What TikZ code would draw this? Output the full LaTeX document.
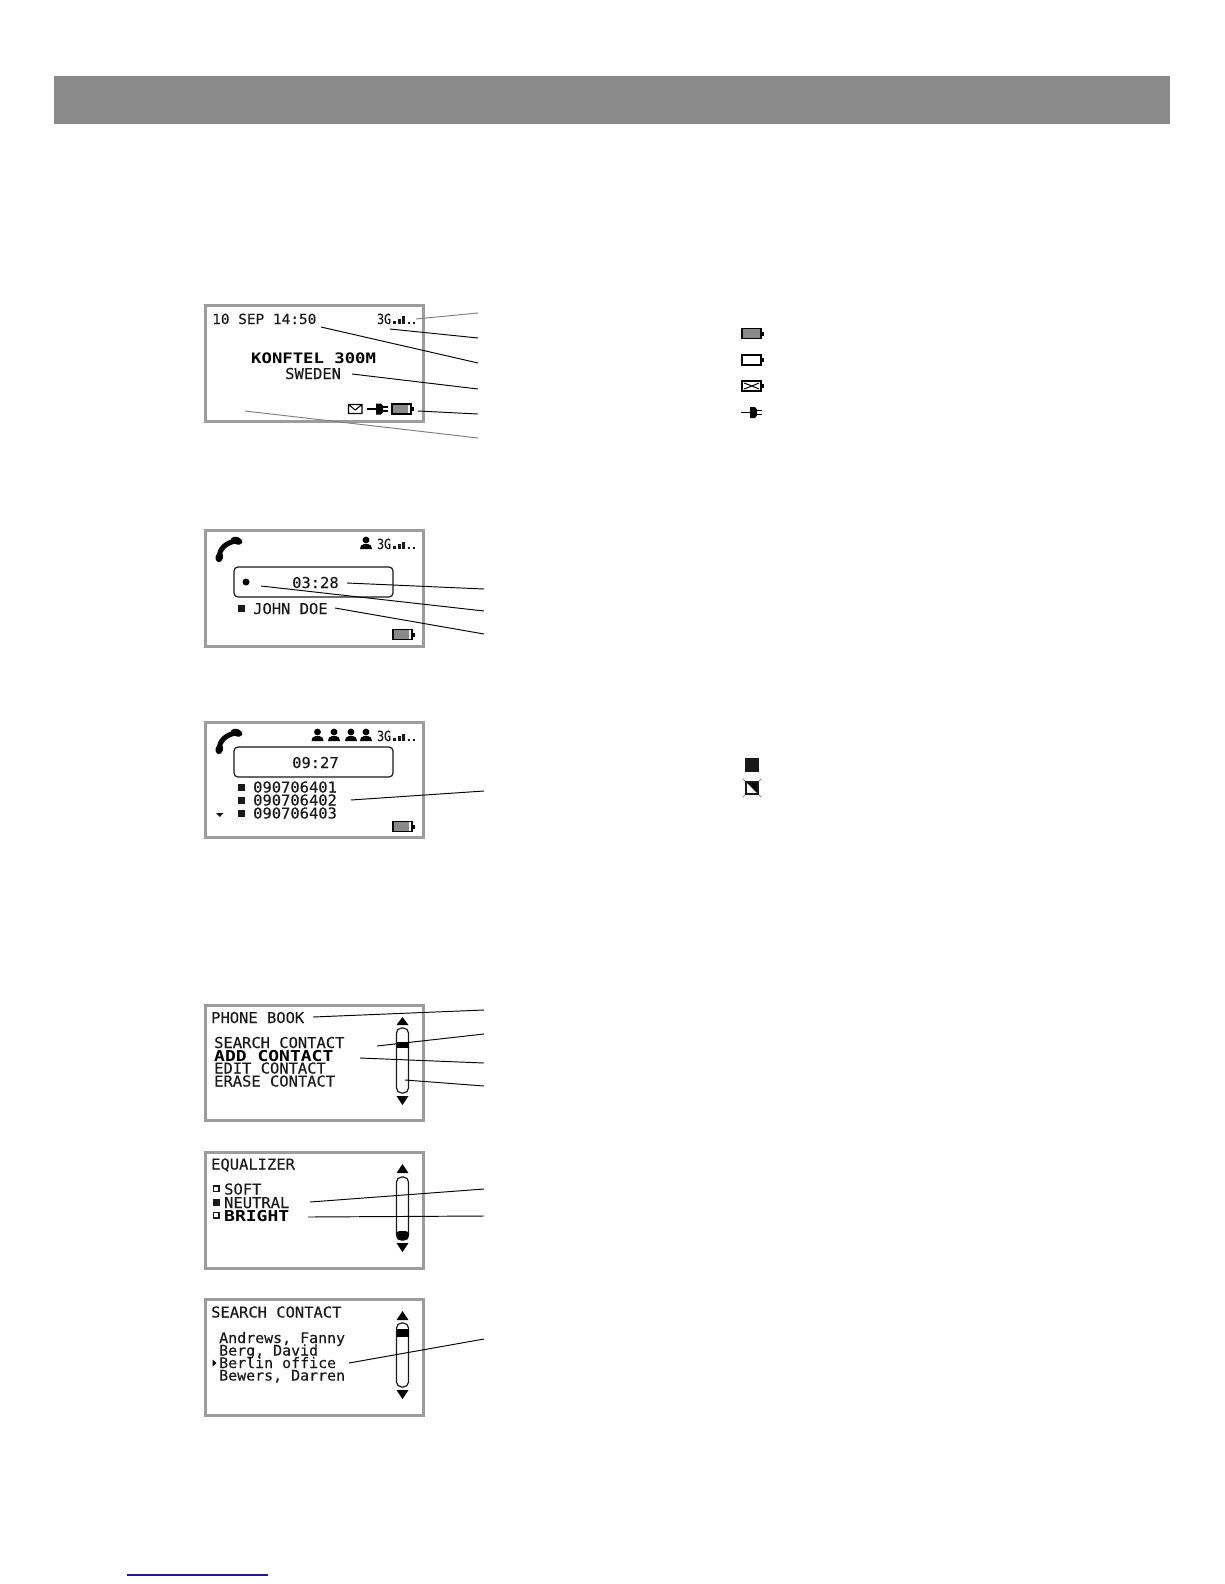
\documentclass[tikz,border=0pt]{standalone}
\usepackage{xcolor}
\usepackage{fontspec}
\usepackage{tikz}
\newfontfamily\lcdfont[FakeStretch=1.03,FakeBold=.25]{DejaVu Sans Mono}
\newfontfamily\lcdwide[FakeStretch=1.2]{DejaVu Sans Mono}
\newfontfamily\lcdnarrow[FakeStretch=.82,FakeBold=.25]{DejaVu Sans Mono}
\definecolor{HDGray}{HTML}{8A8A8A}
\definecolor{LCDFrame}{HTML}{9C9C9C}
\definecolor{LCDDark}{HTML}{1A1A1A}
\definecolor{LCDCell}{HTML}{8A8A8A}
\definecolor{CallGray}{HTML}{808080}
\definecolor{FootBlue}{HTML}{1A1A9C}
\tikzset{
  lcdscreen/.style={draw=LCDFrame,line width=3pt,fill=white,minimum width=217.5pt,minimum height=115.5pt,inner sep=0pt},
  lcdtext/.style={anchor=base west,inner sep=0pt,text=LCDDark,font=\lcdfont\fontsize{15}{15}\selectfont},
  lcdbold/.style={anchor=base west,inner sep=0pt,text=black,font=\lcdwide\bfseries\fontsize{15}{15}\selectfont},
  lcdsmall/.style={anchor=base west,inner sep=0pt,text=LCDDark,font=\lcdnarrow\fontsize{14}{14}\selectfont},
  callout/.style={black,line width=.95pt},
  calloutgray/.style={CallGray,line width=.95pt},
  timerbox/.style={draw=LCDDark,line width=1.2pt,rounded corners=4pt,minimum width=159pt,minimum height=30pt,inner sep=0pt},
  track/.style={draw=LCDDark,line width=1.2pt,rounded corners=5pt},
  signal/.pic={
    \fill[LCDDark] (0,-3) rectangle (3,0);
    \fill[LCDDark] (4.5,-5) rectangle (7.5,0);
    \fill[LCDDark] (9,-7.5) rectangle (12,0);
    \fill[LCDDark] (15,-2) rectangle (17,0);
    \fill[LCDDark] (19.5,-2) rectangle (21.5,0);
  },
  battery/.pic={
    \fill[black] (-.6,-.6) rectangle (19.6,10.6);
    \fill[black] (19.6,3) rectangle (21.6,7);
    \fill[white] (.6,.6) rectangle (18.4,9.4);
    \fill[LCDCell] (.6,.6) rectangle (15.5,9.4);
  },
  plug/.pic={
    \draw[black,line width=1.6pt] (0,0) -- (10,0);
    \fill[black] (9,-5.5) -- (14,-5.5) -- (16,-3) -- (16,3) -- (14,5.5) -- (9,5.5) -- cycle;
    \draw[black,line width=1.4pt] (15,-2) -- (21,-2) (15,2) -- (21,2);
  },
  person/.pic={
    \fill[black] (0,-3) circle (3.4);
    \fill[black] (-6,6) -- (-5,2.5) -- (-2,1) -- (2,1) -- (5,2.5) -- (6,6) -- cycle;
  },
  handset/.pic={
    \draw[black,line width=5pt] (-9.7,7.8) .. controls (-9.7,-1) and (-3,-7) .. (7.7,-8.8);
    \fill[black,rotate around={-15:(-9.7,7.8)}] (-9.7,7.8) ellipse (3.8 and 5);
    \fill[black,rotate around={-20:(7.7,-8.8)}] (7.7,-8.8) ellipse (6 and 3.6);
  }
}

\begin{document}
\begin{tikzpicture}[x=1pt,y=-1pt]
\path[use as bounding box] (0,0) rectangle (1224,1584);
\fill[white] (0,0) rectangle (1224,1584);
\fill[HDGray] (54,76) rectangle (1170,124);

\node[lcdscreen] (scrHome) at (314.5,363.5) {};
\node[lcdtext,font=\lcdfont\fontsize{14}{15}\selectfont] (txtDate) at (212,324) {10 SEP 14:50};
\node[lcdsmall] (txtNetHome) at (377,324) {3G};
\path (393,323.5) pic {signal};
\node[lcdbold,font=\lcdwide\bfseries\fontsize{14.4}{15}\selectfont] (txtModel) at (251,363) {KONFTEL 300M};
\node[lcdtext] (txtCountry) at (285,379) {SWEDEN};
\draw[black,line width=1.1pt] (348.5,404.5) rectangle (362,413.5) (348.5,404.5) -- (355.2,410) -- (362,404.5);
\path (367,409) pic {plug};
\path (392,404) pic {battery};
\coordinate (sigFrom) at (416,319); \coordinate (sigTo) at (478,313);
\coordinate (netFrom) at (390,329); \coordinate (netTo) at (478,338);
\coordinate (dateFrom) at (321,327); \coordinate (dateTo) at (478,363);
\coordinate (ctryFrom) at (352,374); \coordinate (ctryTo) at (478,389);
\coordinate (battFrom) at (418,411); \coordinate (battTo) at (478,414);
\coordinate (freeFrom) at (245,411); \coordinate (freeTo) at (478,438);
\draw[calloutgray] (sigFrom) -- (sigTo);
\draw[callout] (netFrom) -- (netTo);
\draw[callout] (dateFrom) -- (dateTo);
\draw[callout] (ctryFrom) -- (ctryTo);
\draw[callout] (battFrom) -- (battTo);
\draw[calloutgray] (freeFrom) -- (freeTo);

\path (742,328.5) pic {battery};
\fill[LCDCell] (757.5,329) rectangle (760.4,337.9);
\draw[black,line width=1.6pt] (742,355) rectangle (761,365);
\fill[black] (761,358) rectangle (764,362);
\draw[black,line width=1.6pt] (742,381) rectangle (761,391);
\fill[black] (761,384) rectangle (764,388);
\draw[black,line width=1pt] (744,383) -- (752,386) -- (759,383) (744,389) -- (752,386) -- (759,389);
\path (741,412.5) pic {plug};

\node[lcdscreen] (scrCall) at (314.5,588.5) {};
\path (229,549.5) pic {handset};
\path (366,543) pic {person};
\node[lcdsmall] (txtNetCall) at (377,549) {3G};
\path (393,549) pic {signal};
\node[timerbox] (boxCall) at (313.5,582) {};
\fill[black] (246,582) circle (3.5);
\node[lcdtext] (txtCallTime) at (292,588) {03:28};
\fill[LCDDark] (238,605) rectangle (245,612);
\node[lcdtext] (txtCaller) at (253,614) {JOHN DOE};
\path (393,629.5) pic {battery};
\coordinate (timeFrom) at (347,583); \coordinate (timeTo) at (484,589);
\coordinate (dotFrom) at (261,586); \coordinate (dotTo) at (484,611);
\coordinate (nameFrom) at (335,608); \coordinate (nameTo) at (484,634);
\draw[callout] (timeFrom) -- (timeTo);
\draw[callout] (dotFrom) -- (dotTo);
\draw[callout] (nameFrom) -- (nameTo);

\node[lcdscreen] (scrConf) at (314.5,780) {};
\path (229,741.5) pic {handset};
\path (317.5,735) pic {person};
\path (334,735) pic {person};
\path (351,735) pic {person};
\path (366,735) pic {person};
\node[lcdsmall] (txtNetConf) at (377,741) {3G};
\path (393,741) pic {signal};
\node[timerbox] (boxConf) at (313.5,762) {};
\node[lcdtext] (txtConfTime) at (292,768) {09:27};
\fill[LCDDark] (238,784) rectangle (245,791);
\node[lcdtext] (txtNumA) at (253,792.5) {090706401};
\fill[LCDDark] (238,797) rectangle (245,804);
\node[lcdtext] (txtNumB) at (253,805.5) {090706402};
\fill[LCDDark] (238,810) rectangle (245,817);
\node[lcdtext] (txtNumC) at (253,818.5) {090706403};
\fill[LCDDark] (216,813) -- (223.5,813) -- (219.8,817) -- cycle;
\path (393,821.5) pic {battery};
\coordinate (numFrom) at (351,800); \coordinate (numTo) at (484,791);
\draw[callout] (numFrom) -- (numTo);

\fill[LCDDark] (745,758) rectangle (759,772);
\fill[black] (746,782) -- (758,782) -- (758,794) -- cycle;
\draw[LCDDark,line width=1.6pt] (746,782) rectangle (758,794);
\draw[LCDCell,line width=.8pt] (743,779) -- (745,781) (761,779) -- (759,781) (743,797) -- (745,795) (761,797) -- (759,795);

\node[lcdscreen] (scrBook) at (314.5,1063) {};
\node[lcdtext] (txtBook) at (211,1023) {PHONE BOOK};
\node[lcdtext] (txtSearch) at (214,1048) {SEARCH CONTACT};
\node[lcdbold] (txtAdd) at (214,1061) {ADD CONTACT};
\node[lcdtext] (txtEdit) at (214,1073.5) {EDIT CONTACT};
\node[lcdtext] (txtErase) at (214,1086.5) {ERASE CONTACT};
\fill[black] (396.5,1025) -- (402.5,1017) -- (408.5,1025) -- cycle;
\draw[track] (396.5,1028) rectangle (408.5,1093);
\fill[black] (396.5,1042) rectangle (408.5,1048);
\fill[black] (396.5,1096) -- (402.5,1105) -- (408.5,1096) -- cycle;
\coordinate (titleFrom) at (313,1017); \coordinate (titleTo) at (484,1010);
\coordinate (thumbFrom) at (377,1046); \coordinate (thumbTo) at (484,1034);
\coordinate (itemFrom) at (360,1058); \coordinate (itemTo) at (484,1063);
\coordinate (trackFrom) at (405,1080); \coordinate (trackTo) at (484,1086);
\draw[callout] (titleFrom) -- (titleTo);
\draw[callout] (thumbFrom) -- (thumbTo);
\draw[callout] (itemFrom) -- (itemTo);
\draw[callout] (trackFrom) -- (trackTo);

\node[lcdscreen] (scrEq) at (314.5,1210.5) {};
\node[lcdtext] (txtEq) at (211,1169.5) {EQUALIZER};
\draw[LCDDark,line width=1.2pt] (213.5,1186) rectangle (219,1191.5);
\node[lcdtext] (txtSoft) at (224,1194.5) {SOFT};
\fill[LCDDark] (213,1199) rectangle (219.5,1205.5);
\node[lcdtext] (txtNeutral) at (224,1208) {NEUTRAL};
\draw[LCDDark,line width=1.2pt] (213.5,1212.5) rectangle (219,1218);
\node[lcdbold] (txtBright) at (224,1221) {BRIGHT};
\fill[black] (396.5,1173) -- (402.5,1164) -- (408.5,1173) -- cycle;
\draw[track] (396.5,1177) rectangle (408.5,1240);
\fill[black,rounded corners=3pt] (396.5,1231) rectangle (408.5,1240);
\fill[black] (396.5,1243) -- (402.5,1252) -- (408.5,1243) -- cycle;
\coordinate (neuFrom) at (310,1202); \coordinate (neuTo) at (484,1189);
\coordinate (briFrom) at (308,1217); \coordinate (briTo) at (484,1216);
\draw[callout] (neuFrom) -- (neuTo);
\draw[callout] (briFrom) -- (briTo);

\node[lcdscreen] (scrSearch) at (314.5,1357.5) {};
\node[lcdtext] (txtFind) at (211,1317.5) {SEARCH CONTACT};
\node[lcdtext,font=\lcdfont\fontsize{14.5}{15}\selectfont] (txtAndrews) at (219,1343) {Andrews, Fanny};
\node[lcdtext,font=\lcdfont\fontsize{14.5}{15}\selectfont] (txtBerg) at (219,1355.5) {Berg, David};
\node[lcdtext,font=\lcdfont\fontsize{14.5}{15}\selectfont] (txtBerlin) at (219,1368) {Berlin office};
\node[lcdtext,font=\lcdfont\fontsize{14.5}{15}\selectfont] (txtBewers) at (219,1380.5) {Bewers, Darren};
\fill[black] (212.5,1359.5) -- (216.5,1363) -- (212.5,1366.5) -- cycle;
\fill[black] (396.5,1320) -- (402.5,1311) -- (408.5,1320) -- cycle;
\draw[track] (396.5,1323) rectangle (408.5,1387);
\fill[black] (396.5,1329) rectangle (408.5,1337);
\fill[black] (396.5,1390) -- (402.5,1399) -- (408.5,1390) -- cycle;
\coordinate (rowFrom) at (349,1363); \coordinate (rowTo) at (484,1339);
\draw[callout] (rowFrom) -- (rowTo);

\draw[FootBlue,line width=1.3pt] (127,1575) -- (268,1575);
\end{tikzpicture}
\end{document}
